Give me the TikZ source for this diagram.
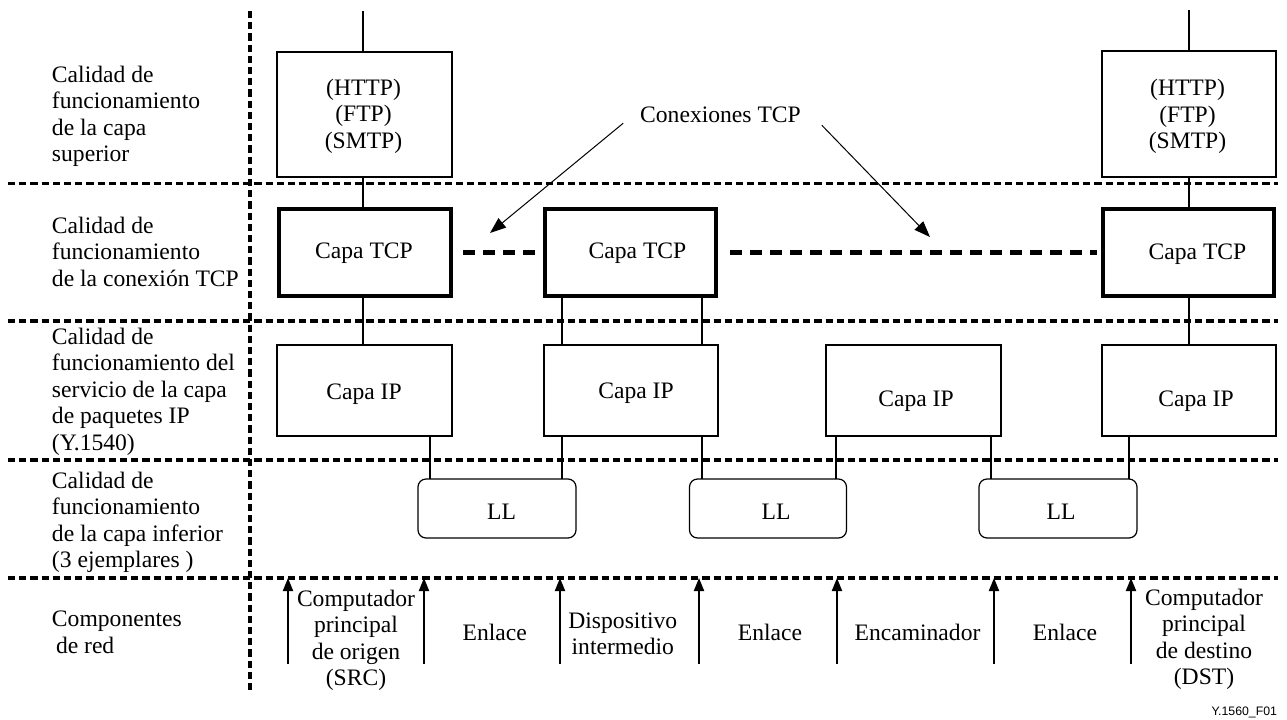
\documentclass[tikz,border=0pt]{standalone}
\usepackage{fontspec}
\setmainfont{Liberation Serif}
\newfontfamily\figsans{Liberation Sans}
\usetikzlibrary{arrows.meta}

% stacked text lines, first line on the node's baseline
\newcommand\leftstack[1]{\begin{tabular}[t]{@{}l@{}}#1\end{tabular}}
\newcommand\midstack[1]{\begin{tabular}[t]{@{}c@{}}#1\end{tabular}}

\begin{document}
\begin{tikzpicture}[x=0.5pt,y=-0.5pt,
  every node/.style={font=\fontsize{11.8pt}{13.33pt}\selectfont, inner sep=0pt, outer sep=0pt},
  sep/.style={line width=1.6pt, dash pattern=on 3.6pt off 2pt},
  box/.style={draw, line width=0.6pt, rectangle},
  tcpbox/.style={draw, line width=2pt, rectangle},
  llbox/.style={draw, line width=0.6pt, rectangle, rounded corners=4pt},
  wire/.style={line width=1pt},
  tcplink/.style={line width=2.5pt, dash pattern=on 5.85pt off 4.15pt},
  pointer/.style={line width=0.5pt, -{Triangle[length=8pt,width=6pt]}},
  probe/.style={line width=1pt, -{Triangle[length=6.5pt,width=5pt]}},
  txt/.style={anchor=base},
  sidetxt/.style={anchor=base west},
]
\useasboundingbox (0,0) rectangle (1287,719);

% layer separators
\draw[sep] (8,183.5) -- (1278,183.5);
\draw[sep] (8,321) -- (1278,321);
\draw[sep] (8,460) -- (1278,460);
\draw[sep] (8,578) -- (1278,578);
\draw[sep] (250,11) -- (250,690);

% layer titles
\node[sidetxt] (t1) at (52,82) {\leftstack{Calidad de\\funcionamiento\\de la capa\\superior}};
\node[sidetxt] (t2) at (52,233) {\leftstack{Calidad de\\funcionamiento\\de la conexión TCP}};
\node[sidetxt] (t3) at (52,344) {\leftstack{Calidad de\\funcionamiento del\\servicio de la capa\\de paquetes IP\\(Y.1540)}};
\node[sidetxt] (t4) at (52,488) {\leftstack{Calidad de\\funcionamiento\\de la capa inferior\\(3 ejemplares )}};
\node[sidetxt] (t5) at (52,626.7) {\leftstack{Componentes\\\hspace*{2pt}de red}};

% application boxes
\node[box, minimum width=87.5pt, minimum height=62.5pt] (app1) at (364.5,114.5) {};
\node[box, minimum width=87pt, minimum height=63pt] (app2) at (1189,114) {};
\node[txt] (app1t) at (363.5,95) {\midstack{(HTTP)\\(FTP)\\(SMTP)}};
\node[txt] (app2t) at (1187.5,95.5) {\midstack{(HTTP)\\(FTP)\\(SMTP)}};

% TCP boxes
\node[tcpbox, minimum width=86pt, minimum height=43.5pt] (tcp1) at (365,252) {};
\node[tcpbox, minimum width=85.5pt, minimum height=43.5pt] (tcp2) at (630.5,252) {};
\node[tcpbox, minimum width=85.5pt, minimum height=43.5pt] (tcp3) at (1188.5,252) {};
\node[txt] (tcp1t) at (364,258.5) {Capa TCP};
\node[txt] (tcp2t) at (637.5,258.5) {Capa TCP};
\node[txt] (tcp3t) at (1197.5,259) {Capa TCP};

% IP boxes
\node[box, minimum width=87.5pt, minimum height=45.5pt] (ip1) at (364.5,390.5) {};
\node[box, minimum width=87pt, minimum height=45.5pt] (ip2) at (631,390.5) {};
\node[box, minimum width=87.5pt, minimum height=45.5pt] (ip3) at (913.5,390.5) {};
\node[box, minimum width=87pt, minimum height=45.5pt] (ip4) at (1189,390.5) {};
\node[txt] (ip1t) at (364,399) {Capa IP};
\node[txt] (ip2t) at (636,398) {Capa IP};
\node[txt] (ip3t) at (916,406) {Capa IP};
\node[txt] (ip4t) at (1196,406) {Capa IP};

% lower layer boxes
\node[llbox, minimum width=79pt, minimum height=29.5pt] (ll1) at (497,508.5) {};
\node[llbox, minimum width=78.5pt, minimum height=29.5pt] (ll2) at (768,508.5) {};
\node[llbox, minimum width=79pt, minimum height=29.5pt] (ll3) at (1058,508.5) {};
\node[txt] (ll1t) at (501.5,519.5) {LL};
\node[txt] (ll2t) at (776,519.5) {LL};
\node[txt] (ll3t) at (1061,519) {LL};

% wire positions
\coordinate (topL) at (363,11);
\coordinate (topR) at (1189,10);
\coordinate (x430) at (430,0);
\coordinate (x562) at (562,0);
\coordinate (x702) at (702,0);
\coordinate (x836) at (836,0);
\coordinate (x991) at (991,0);
\coordinate (x1129) at (1129,0);

% vertical stacks at the end hosts
\draw[wire] (topL) -- (topL |- app1.north);
\draw[wire] (app1.south -| topL) -- (tcp1.north -| topL);
\draw[wire] (tcp1.south -| topL) -- (ip1.north -| topL);
\draw[wire] (topR) -- (topR |- app2.north);
\draw[wire] (app2.south -| topR) -- (tcp3.north -| topR);
\draw[wire] (tcp3.south -| topR) -- (ip4.north -| topR);

% intermediate device
\draw[wire] (tcp2.south -| x562) -- (ip2.north -| x562);
\draw[wire] (tcp2.south -| x702) -- (ip2.north -| x702);

% IP to lower layers
\draw[wire] (ip1.south -| x430) -- (ll1.north -| x430);
\draw[wire] (ip2.south -| x562) -- (ll1.north -| x562);
\draw[wire] (ip2.south -| x702) -- (ll2.north -| x702);
\draw[wire] (ip3.south -| x836) -- (ll2.north -| x836);
\draw[wire] (ip3.south -| x991) -- (ll3.north -| x991);
\draw[wire] (ip4.south -| x1129) -- (ll3.north -| x1129);

% TCP connections
\draw[tcplink] ([xshift=6pt]tcp1.east) -- ([xshift=-5pt]tcp2.west);
\draw[tcplink] ([xshift=7pt]tcp2.east) -- ([xshift=-3pt]tcp3.west);

\node[txt] (conx) at (720.5,122) {Conexiones TCP};
\coordinate (conxL) at (490,233);
\coordinate (conxR) at (930,237);
\draw[pointer] ([xshift=-8.5pt,yshift=-0.5pt]conx.south west) -- (conxL);
\draw[pointer] ([xshift=10.5pt,yshift=-1.5pt]conx.south east) -- (conxR);

% network component boundaries
\coordinate (edge) at (0,578);
\coordinate (p1) at (288,664);
\coordinate (p2) at (424,664);
\coordinate (p3) at (560,664);
\coordinate (p4) at (699,664);
\coordinate (p5) at (837,664);
\coordinate (p6) at (994,664);
\coordinate (p7) at (1131,664);
\foreach \p in {p1,p2,p3,p4,p5,p6,p7}
  \draw[probe] (\p) -- (\p |- edge);

\node[txt] (c1) at (356,606) {\midstack{Computador\\principal\\de origen\\(SRC)}};
\node[txt] (c2) at (494.7,640) {Enlace};
\node[txt] (c3) at (622.8,628.3) {\midstack{Dispositivo\\intermedio}};
\node[txt] (c4) at (770,640) {Enlace};
\node[txt] (c5) at (917.5,640) {Encaminador};
\node[txt] (c6) at (1065,640) {Enlace};
\node[txt] (c7) at (1204,605) {\midstack{Computador\\principal\\de destino\\(DST)}};

\node[anchor=base east, font=\figsans\fontsize{6.15pt}{7pt}\selectfont] (figid) at (1277,715) {Y.1560\_F01};
\end{tikzpicture}
\end{document}
